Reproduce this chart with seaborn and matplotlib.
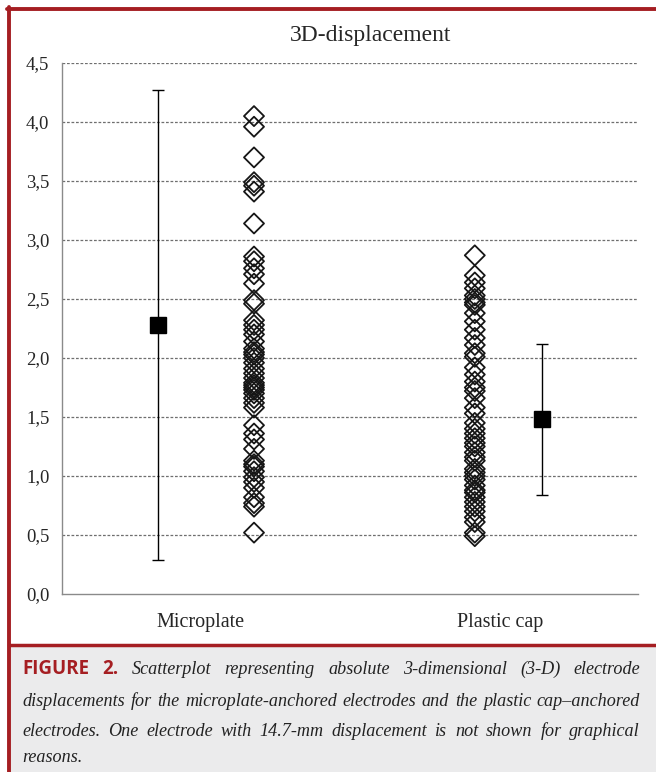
import matplotlib
matplotlib.use("Agg")
import matplotlib.pyplot as plt
from matplotlib.patches import Rectangle
import numpy as np
import pandas as pd
import seaborn as sns

# ---------------------------------------------------------------------------
# Data
# ---------------------------------------------------------------------------
groups = ["Microplate", "Plastic cap"]

microplate = [4.05, 3.96, 3.70, 3.49, 3.46, 3.41, 3.14, 2.86, 2.82, 2.76,
              2.71, 2.63, 2.49, 2.46, 2.32, 2.28, 2.24, 2.20, 2.14, 2.08,
              2.05, 2.03, 2.00, 1.96, 1.91, 1.87, 1.83, 1.79, 1.77, 1.75,
              1.73, 1.70, 1.66, 1.62, 1.58, 1.43, 1.36, 1.31, 1.23, 1.13,
              1.10, 1.08, 1.04, 0.99, 0.95, 0.90, 0.82, 0.77, 0.74, 0.52]

plastic_cap = [2.87, 2.70, 2.64, 2.59, 2.53, 2.50, 2.47, 2.45, 2.38, 2.31,
               2.24, 2.17, 2.11, 2.04, 2.01, 1.92, 1.86, 1.80, 1.75, 1.72,
               1.66, 1.58, 1.53, 1.45, 1.40, 1.36, 1.32, 1.28, 1.25, 1.20,
               1.16, 1.13, 1.06, 1.03, 1.00, 0.97, 0.92, 0.88, 0.86, 0.82,
               0.78, 0.74, 0.70, 0.65, 0.61, 0.52, 0.49]

group_means = [2.28, 1.48]
group_sd = [1.99, 0.64]

y_ticks = [0.0, 0.5, 1.0, 1.5, 2.0, 2.5, 3.0, 3.5, 4.0, 4.5]
y_tick_labels = ["0,0", "0,5", "1,0", "1,5", "2,0", "2,5", "3,0", "3,5", "4,0", "4,5"]

chart_title = "3D-displacement"

caption_lines = [
    "Scatterplot representing absolute 3-dimensional (3-D) electrode",
    "displacements for the microplate-anchored electrodes and the plastic cap\u2013anchored",
    "electrodes. One electrode with 14.7-mm displacement is not shown for graphical",
    "reasons.",
]
caption_label = ["FIGURE", "2."]

# layout (x positions on a 0..6 axis)
POINT_X = {"Microplate": 2.0, "Plastic cap": 4.3}
MEAN_X = {"Microplate": 1.0, "Plastic cap": 5.0}
LABEL_X = [1.44, 4.56]

RED = "#a51e22"
CAPTION_BG = "#ebebec"

df = pd.DataFrame({
    "group": ["Microplate"] * len(microplate) + ["Plastic cap"] * len(plastic_cap),
    "value": microplate + plastic_cap,
})
df["x"] = df["group"].map(POINT_X)

# ---------------------------------------------------------------------------
# Figure
# ---------------------------------------------------------------------------
sns.set_style("white")
plt.rcParams["font.family"] = ["Liberation Serif", "DejaVu Serif"]

W, H = 656, 772
fig = plt.figure(figsize=(W / 100, H / 100), dpi=100)
fig.patch.set_facecolor("white")

ax = fig.add_axes([62 / W, 1 - 594 / H, (638 - 62) / W, (594 - 63) / H])

sns.scatterplot(data=df, x="x", y="value", marker="D", s=104,
                facecolor="none", edgecolor="#161616", linewidth=1.3,
                legend=False, ax=ax, zorder=3)

for g, m, sd in zip(groups, group_means, group_sd):
    ax.errorbar(MEAN_X[g], m, yerr=sd, fmt="s", ms=12, color="black",
                ecolor="black", elinewidth=1.0, capsize=4, capthick=1.0,
                zorder=4)

ax.set_xlim(0, 6)
ax.set_ylim(0, 4.5)
ax.set_yticks(y_ticks)
ax.set_yticklabels(y_tick_labels, fontsize=13.5)
ax.set_xticks(LABEL_X)
ax.set_xticklabels(groups, fontsize=14.5)
ax.tick_params(axis="both", length=0)
ax.tick_params(axis="y", pad=9)
ax.tick_params(axis="x", pad=14)
ax.set_xlabel("")
ax.set_ylabel("")

for y in y_ticks[1:]:
    ax.axhline(y, color="#6f6f6f", lw=0.9, ls=(0, (2.2, 1.4)), zorder=1)

for side in ["top", "right"]:
    ax.spines[side].set_visible(False)
ax.spines["left"].set_color("#8a8a8a")
ax.spines["bottom"].set_color("#8a8a8a")
ax.spines["left"].set_linewidth(1.0)
ax.spines["bottom"].set_linewidth(1.0)

fig.text(371 / W, 1 - 36 / H, chart_title, ha="center", va="center", fontsize=17)

# ---------------------------------------------------------------------------
# Frame and caption box
# ---------------------------------------------------------------------------
fig.patches.append(Rectangle((10 / W, 0), 1, 1 - 647 / H, transform=fig.transFigure,
                             facecolor=CAPTION_BG, edgecolor="none", zorder=0))
fig.add_artist(plt.Line2D([9 / W, 1], [1 - 645 / H, 1 - 645 / H], color=RED, lw=2.5,
                          transform=fig.transFigure))
fig.add_artist(plt.Line2D([8.5 / W, 8.5 / W], [0, 1 - 7 / H], color=RED, lw=2.8,
                          transform=fig.transFigure))
fig.add_artist(plt.Line2D([7 / W, 1], [1 - 8.5 / H, 1 - 8.5 / H], color=RED, lw=2.8,
                          transform=fig.transFigure))

# justified caption
renderer = fig.canvas.get_renderer()
x_left, x_right = 22, 640
line_y = [669, 701, 731, 757]
cap_font = dict(family=["Liberation Serif"], style="italic", fontsize=13.1, color="#222222")
label_font = dict(family=["Open Sans", "Liberation Sans"], weight="bold", fontsize=13.5, color=RED)


def word_width(t):
    bb = t.get_window_extent(renderer=renderer)
    return bb.width


for i, line in enumerate(caption_lines):
    words = [(w, cap_font) for w in line.split(" ")]
    if i == 0:
        words = [(w, label_font) for w in caption_label] + words
    texts = [fig.text(0, 1 - line_y[i] / H, w, va="center", ha="left", **kw)
             for w, kw in words]
    widths = [word_width(t) for t in texts]
    last = i == len(caption_lines) - 1
    gap = 5 if last else (x_right - x_left - sum(widths)) / (len(texts) - 1)
    x = x_left
    for t, wd in zip(texts, widths):
        t.set_x(x / W)
        x += wd + gap

fig.savefig("out.png", dpi=100)
